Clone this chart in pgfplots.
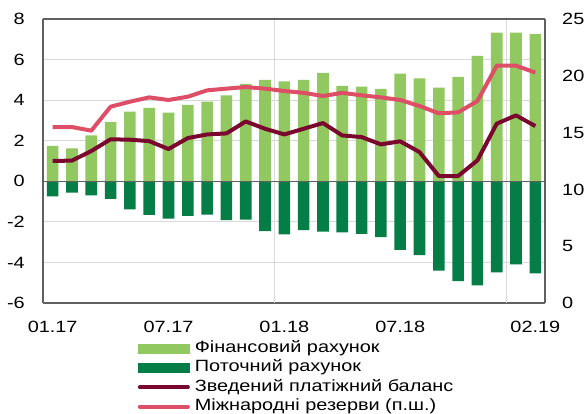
\documentclass[border=0pt]{standalone}
\usepackage{pgfplots}
\pgfplotsset{compat=1.18}
\usepackage{pgfplotstable}
\usepackage{fontspec}
\setmainfont[FakeStretch=1.22]{Liberation Sans}
\definecolor{fin}{RGB}{146,200,96}
\definecolor{cur}{RGB}{4,125,70}
\definecolor{bal}{RGB}{122,8,46}
\definecolor{res}{RGB}{222,78,102}
\definecolor{framec}{RGB}{96,96,96}
\definecolor{gridc}{RGB}{217,217,217}

\pgfplotstableread{
i fin cur bal res
0 1.74 -0.74 1.00 15.49
1 1.62 -0.56 1.02 15.49
2 2.26 -0.70 1.49 15.17
3 2.92 -0.87 2.07 17.28
4 3.43 -1.39 2.05 17.72
5 3.62 -1.66 1.98 18.10
6 3.39 -1.84 1.59 17.87
7 3.77 -1.70 2.13 18.16
8 3.93 -1.64 2.31 18.72
9 4.23 -1.92 2.36 18.87
10 4.80 -1.89 2.95 19.01
11 5.00 -2.46 2.59 18.87
12 4.93 -2.62 2.31 18.66
13 5.00 -2.41 2.59 18.50
14 5.34 -2.48 2.87 18.22
15 4.70 -2.52 2.26 18.50
16 4.67 -2.59 2.18 18.28
17 4.56 -2.75 1.82 18.10
18 5.31 -3.38 1.97 17.87
19 5.07 -3.64 1.44 17.34
20 4.62 -4.41 0.26 16.70
21 5.15 -4.92 0.26 16.78
22 6.18 -5.13 1.03 17.78
23 7.33 -4.49 2.84 20.89
24 7.33 -4.10 3.25 20.89
25 7.25 -4.54 2.72 20.28
}\data

\newcommand{\tfont}{\fontsize{16.3}{19}\selectfont}

\begin{document}
\begin{tikzpicture}[x=1pt,y=1pt]
\useasboundingbox (0,0) rectangle (584,414);
\begin{axis}[
  at={(43pt,111pt)}, anchor=south west,
  scale only axis, width=502pt, height=284pt,
  xmin=-0.5, xmax=25.5, ymin=-6, ymax=8,
  ytick={-6,-4,...,8},
  xtick={0,6,12,18,25},
  xticklabels={01.17,07.17,01.18,07.18,02.19},
  extra x ticks={11.5,23.5}, extra x tick labels={},
  extra x tick style={xmajorgrids=true, major grid style={gridc, line width=0.8pt}, major tick length=0pt},
  ymajorgrids, grid style={gridc, line width=0.8pt},
  major tick length=0pt,
  axis line style={framec, line width=1.3pt},
  /pgf/number format/assume math mode=true,
  ticklabel style={font=\tfont, inner sep=0pt},
  yticklabel style={xshift=-18pt},
  xticklabel style={yshift=-18pt},
  axis y line*=left,
  ybar, bar width=11.6pt, bar shift=0pt,
  legend style={draw=none, fill=none, at={(0.189,-0.1327)}, anchor=north west,
    inner sep=0pt, outer sep=0pt, font=\tfont, row sep=3.3pt,
    nodes={inner sep=0pt, text height=12pt, text depth=4pt},
    /tikz/every odd column/.append style={column sep=5pt}},
  legend cell align=left,
]
\addplot[fill=fin, draw=none,
  legend image code/.code={\fill[fin] (0pt,-5pt) rectangle (52pt,5pt);}]
  table[x=i, y=fin]{\data};
\addlegendentry{Фінансовий рахунок}
\addplot[fill=cur, draw=none,
  legend image code/.code={\fill[cur] (0pt,-5pt) rectangle (52pt,5pt);}]
  table[x=i, y=cur]{\data};
\addlegendentry{Поточний рахунок}
\draw[framec, line width=1.3pt] (axis cs:-0.5,0) -- (axis cs:25.5,0);
\addplot[sharp plot, bal, line width=4pt, line join=round, mark=none,
  legend image code/.code={\draw[bal, line width=4pt, line cap=round] (2pt,0pt) -- (50pt,0pt);}]
  table[x=i, y=bal]{\data};
\addlegendentry{Зведений платіжний баланс}
\addlegendimage{legend image code/.code={\draw[res, line width=4pt, line cap=round] (2pt,0pt) -- (50pt,0pt);}}
\addlegendentry{Міжнародні резерви (п.ш.)}
\end{axis}
\begin{axis}[
  at={(43pt,111pt)}, anchor=south west,
  scale only axis, width=502pt, height=284pt,
  xmin=-0.5, xmax=25.5, ymin=0, ymax=25,
  ytick={0,5,...,25},
  axis x line=none,
  axis y line*=right,
  major tick length=0pt,
  axis line style={framec, line width=1.3pt},
  /pgf/number format/assume math mode=true,
  ticklabel style={font=\tfont, inner sep=0pt},
  yticklabel style={xshift=17pt},
]
\addplot[res, line width=4pt, line join=round, mark=none] table[x=i, y=res]{\data};
\end{axis}
\draw[framec, line width=1.3pt] (43,395) -- (545,395);
\end{tikzpicture}
\end{document}
